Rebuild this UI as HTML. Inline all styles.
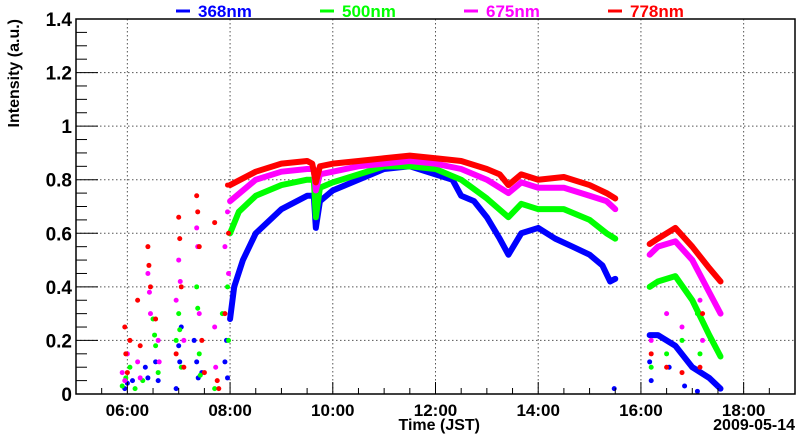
<!DOCTYPE html>
<html><head><meta charset="utf-8"><style>
body{margin:0;background:#fff;}
svg{display:block;font-family:"Liberation Sans",sans-serif;font-weight:bold;}
</style></head><body>
<svg id="c" width="800" height="434" viewBox="0 0 800 434" xmlns="http://www.w3.org/2000/svg"></svg>
<script>
// ---- data ----
const seriesNames = ["368nm","500nm","675nm","778nm"];
const seriesColors = ["#0000ff","#00ff00","#ff00ff","#ff0000"];
const yTicks = [0,0.2,0.4,0.6,0.8,1,1.2,1.4];
const yTickLabels = ["0","0.2","0.4","0.6","0.8","1","1.2","1.4"];
const xTicks = [6,8,10,12,14,16,18];
const xTickLabels = ["06:00","08:00","10:00","12:00","14:00","16:00","18:00"];
// day segment [hour, value]
const blueDay = [[8.0,0.28],[8.08,0.40],[8.25,0.50],[8.5,0.60],[9.0,0.69],[9.5,0.74],[9.63,0.74],[9.67,0.62],[9.75,0.72],[10.0,0.76],[10.5,0.80],[11.0,0.84],[11.5,0.85],[12.0,0.82],[12.33,0.80],[12.5,0.74],[12.75,0.72],[13.0,0.66],[13.25,0.58],[13.42,0.52],[13.67,0.60],[14.0,0.62],[14.33,0.58],[14.67,0.55],[15.0,0.52],[15.25,0.48],[15.4,0.42],[15.5,0.43]];
const greenDay = [[8.0,0.60],[8.17,0.68],[8.5,0.74],[9.0,0.78],[9.5,0.80],[9.63,0.80],[9.67,0.66],[9.75,0.77],[10.0,0.79],[10.5,0.82],[11.0,0.85],[11.5,0.85],[12.0,0.84],[12.5,0.80],[13.0,0.73],[13.42,0.66],[13.67,0.71],[14.0,0.69],[14.5,0.69],[15.0,0.65],[15.33,0.60],[15.5,0.58]];
const magentaDay = [[8.0,0.72],[8.5,0.80],[9.0,0.83],[9.5,0.84],[9.63,0.84],[9.67,0.76],[9.75,0.82],[10.0,0.83],[10.5,0.85],[11.0,0.86],[11.5,0.87],[12.0,0.86],[12.5,0.84],[13.0,0.80],[13.42,0.75],[13.67,0.79],[14.0,0.77],[14.5,0.77],[15.0,0.74],[15.33,0.72],[15.5,0.69]];
const redDay = [[8.0,0.78],[8.5,0.83],[9.0,0.86],[9.5,0.87],[9.6,0.86],[9.67,0.79],[9.75,0.85],[10.0,0.86],[10.5,0.87],[11.0,0.88],[11.5,0.89],[12.0,0.88],[12.5,0.87],[13.0,0.84],[13.25,0.82],[13.42,0.78],[13.67,0.82],[14.0,0.80],[14.5,0.81],[15.0,0.78],[15.33,0.75],[15.5,0.73]];
// evening segment
const blueEve = [[16.17,0.22],[16.33,0.22],[16.67,0.18],[17.0,0.10],[17.33,0.06],[17.55,0.02]];
const greenEve = [[16.17,0.40],[16.33,0.42],[16.67,0.44],[17.0,0.35],[17.33,0.22],[17.55,0.14]];
const magentaEve = [[16.17,0.52],[16.33,0.55],[16.67,0.57],[17.0,0.50],[17.33,0.38],[17.55,0.30]];
const redEve = [[16.17,0.56],[16.33,0.58],[16.67,0.62],[17.0,0.55],[17.33,0.47],[17.55,0.42]];
// scattered points
const blueDots = [[5.95,0.02],[6.0,0.04],[6.1,0.05],[6.35,0.1],[6.4,0.06],[6.55,0.12],[6.6,0.05],[6.95,0.02],[7.0,0.18],[7.02,0.12],[7.05,0.25],[7.3,0.2],[7.35,0.12],[7.38,0.06],[7.45,0.08],[7.9,0.12],[7.93,0.2],[7.95,0.06],[15.48,0.02],[16.17,0.12],[16.2,0.05],[16.55,0.1],[16.85,0.03],[17.1,0.01]];
const greenDots = [[5.9,0.03],[5.97,0.06],[6.05,0.1],[6.15,0.02],[6.3,0.05],[6.5,0.28],[6.53,0.22],[6.55,0.18],[6.6,0.08],[6.95,0.2],[7.0,0.3],[7.02,0.24],[7.05,0.1],[7.35,0.4],[7.37,0.32],[7.4,0.15],[7.42,0.07],[7.7,0.02],[7.85,0.3],[7.95,0.4],[7.97,0.2],[16.2,0.1],[16.5,0.15],[16.8,0.2],[17.1,0.3],[17.15,0.15]];
const magentaDots = [[5.9,0.08],[5.95,0.05],[6.0,0.15],[6.2,0.12],[6.25,0.06],[6.4,0.45],[6.43,0.38],[6.45,0.3],[6.6,0.2],[6.62,0.12],[6.95,0.35],[7.0,0.5],[7.03,0.42],[7.1,0.2],[7.35,0.62],[7.37,0.55],[7.4,0.3],[7.7,0.25],[7.72,0.1],[7.9,0.55],[7.95,0.68],[7.97,0.45],[16.2,0.2],[16.5,0.3],[16.8,0.25],[17.15,0.35],[17.2,0.2]];
const redDots = [[5.95,0.25],[5.97,0.15],[6.0,0.08],[6.05,0.2],[6.2,0.35],[6.25,0.18],[6.4,0.55],[6.42,0.48],[6.45,0.4],[6.55,0.28],[6.95,0.15],[7.0,0.66],[7.02,0.58],[7.05,0.4],[7.1,0.1],[7.35,0.74],[7.37,0.68],[7.4,0.55],[7.45,0.2],[7.5,0.08],[7.7,0.64],[7.75,0.05],[7.78,0.02],[7.9,0.3],[7.95,0.78],[7.97,0.6],[16.2,0.15],[16.5,0.1],[16.8,0.08],[17.15,0.1],[17.2,0.3]];

// ---- axes ----
const X0=76,X1=795,Y0=394,Y1=19,TMIN=5,TMAX=19,VMAX=1.4;
const xs=t=>X0+(t-TMIN)/(TMAX-TMIN)*(X1-X0);
const ys=v=>Y0-v/VMAX*(Y0-Y1);
const svg=document.getElementById('c');
const NS="http://www.w3.org/2000/svg";
function mk(tag,attrs,parent){const e=document.createElementNS(NS,tag);for(const k in attrs)e.setAttribute(k,attrs[k]);(parent||svg).appendChild(e);return e;}

const grid=mk('g',{});


xTicks.forEach(t=>mk('line',{x1:xs(t),x2:xs(t),y1:Y1,y2:Y0,stroke:'#555','stroke-width':1,'stroke-dasharray':'1.5,2.5'},grid));
yTicks.slice(1,-1).forEach(v=>mk('line',{x1:X0,x2:X1,y1:ys(v),y2:ys(v),stroke:'#555','stroke-width':1,'stroke-dasharray':'1.5,2.5'},grid));

const dayData=[blueDay,greenDay,magentaDay,redDay];
const eveData=[blueEve,greenEve,magentaEve,redEve];
const dotData=[blueDots,greenDots,magentaDots,redDots];
[0,1,2,3].forEach(i=>{
  const g=mk('g',{});
  
  
  [dayData[i],eveData[i]].forEach(arr=>{
    const p=mk('polyline',{points:arr.map(d=>xs(d[0])+','+ys(d[1])).join(' '),fill:'none',stroke:seriesColors[i],'stroke-width':6,'stroke-linejoin':'round','stroke-linecap':'round'},g);
    
    
  });
  dotData[i].forEach(d=>{
    const c=mk('circle',{cx:xs(d[0]),cy:ys(d[1]),r:2.5,fill:seriesColors[i]},g);
    
    
  });
});

const fr=mk('rect',{x:X0,y:Y1,width:X1-X0,height:Y0-Y1,fill:'none',stroke:'#000','stroke-width':1.5});



for(let v=0;v<=1.4001;v+=0.05){const major=Math.abs(v/0.2-Math.round(v/0.2))<1e-6;mk('line',{x1:X0,x2:X0+(major?22:11),y1:ys(v),y2:ys(v),stroke:'#000','stroke-width':1});}
yTicks.forEach((v,i)=>{const t=mk('text',{x:X0-4,y:ys(v)+7,'text-anchor':'end','font-size':19,fill:'#000'});t.textContent=yTickLabels[i];

});
for(let t=5.5;t<19;t+=0.5){const major=Math.abs(t/2-Math.round(t/2))<1e-6&&t>=6;mk('line',{x1:xs(t),x2:xs(t),y1:Y0,y2:Y0-(major?12:6),stroke:'#000','stroke-width':1});}
xTicks.forEach((t,i)=>{const e=mk('text',{x:xs(t),y:Y0+22,'text-anchor':'middle','font-size':17,fill:'#000'});e.textContent=xTickLabels[i];

});

const xt=mk('text',{x:436,y:430,'text-anchor':'end','font-size':16,fill:'#000',dx:'44'});xt.textContent='Time (JST)';


const dt=mk('text',{x:795,y:430,'text-anchor':'end','font-size':16,fill:'#000'});dt.textContent='2009-05-14';


const yt=mk('text',{x:0,y:0,'text-anchor':'end','font-size':16,fill:'#000',transform:'translate(19,19) rotate(-90)'});yt.textContent='Intensity (a.u.)';



const legX=[176,320,464,608];
seriesNames.forEach((n,i)=>{
  const g=mk('g',{});
  
  
  mk('line',{x1:legX[i],x2:legX[i]+14,y1:11,y2:11,stroke:seriesColors[i],'stroke-width':3},g);
  const t=mk('text',{x:legX[i]+22,y:17,'font-size':17,fill:seriesColors[i]},g);t.textContent=n;
});
</script>
</body></html>
